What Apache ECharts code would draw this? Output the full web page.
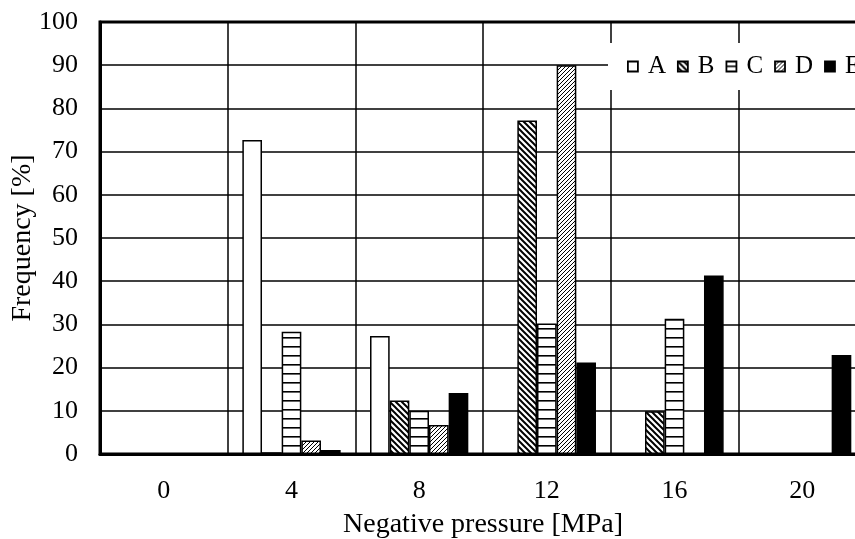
<!DOCTYPE html>
<html>
<head>
<meta charset="utf-8">
<script src="https://cdn.jsdelivr.net/npm/echarts@6/dist/echarts.min.js"></script>
<style>
html,body{margin:0;padding:0;background:#fff;}
#chart{width:855px;height:539px;}
</style>
</head>
<body>
<div id="chart"></div>
<script>
// Data
var categories = ['0', '4', '8', '12', '16', '20'];
var seriesNames = ['A', 'B', 'C', 'D', 'E'];
var valuesA = [0, 72.7, 27.3, 0, 0, 0];
var valuesB = [0, 0.4, 12.4, 77.2, 9.9, 0];
var valuesC = [0, 28.3, 10.0, 30.2, 31.3, 0];
var valuesD = [0, 3.1, 6.7, 90.0, 0, 0];
var valuesE = [0, 0.9, 14.1, 21.2, 41.3, 22.9];
var yTicks = [0, 10, 20, 30, 40, 50, 60, 70, 80, 90, 100];

function makeTile(w, h, draw) {
  var c = document.createElement('canvas');
  c.width = w; c.height = h;
  var ctx = c.getContext('2d');
  ctx.fillStyle = '#fff';
  ctx.fillRect(0, 0, w, h);
  ctx.strokeStyle = '#000';
  draw(ctx, w, h);
  return c;
}
var tileB = makeTile(6, 6, function (ctx, s) {
  ctx.lineWidth = 2;
  ctx.beginPath();
  ctx.moveTo(0, 0); ctx.lineTo(s, s);
  ctx.moveTo(-2, s - 2); ctx.lineTo(2, s + 2);
  ctx.moveTo(s - 2, -2); ctx.lineTo(s + 2, 2);
  ctx.stroke();
});
var tileC = makeTile(4, 9, function (ctx, w, h) {
  ctx.fillStyle = '#000';
  ctx.fillRect(0, 4, w, 1.6);
});
var tileD = makeTile(4, 4, function (ctx, s) {
  ctx.lineWidth = 1;
  ctx.beginPath();
  ctx.moveTo(0, s); ctx.lineTo(s, 0);
  ctx.moveTo(-1, 1); ctx.lineTo(1, -1);
  ctx.moveTo(s - 1, s + 1); ctx.lineTo(s + 1, s - 1);
  ctx.stroke();
});

var fills = [
  '#ffffff',
  { image: tileB, repeat: 'repeat' },
  { image: tileC, repeat: 'repeat' },
  { image: tileD, repeat: 'repeat' },
  '#000000'
];
var allValues = [valuesA, valuesB, valuesC, valuesD, valuesE];
var fontFam = "'Liberation Serif', 'Times New Roman', serif";

var series = seriesNames.map(function (n, i) {
  return {
    name: n,
    type: 'bar',
    data: allValues[i],
    barGap: '0%',
    barCategoryGap: '23%',
    itemStyle: { color: fills[i], borderColor: '#000', borderWidth: 1.5 },
    emphasis: { disabled: true },
    animation: false
  };
});

var chart = echarts.init(document.getElementById('chart'), null, { renderer: 'canvas' });
chart.setOption({
  animation: false,
  backgroundColor: '#fff',
  textStyle: { fontFamily: fontFam, color: '#000' },
  grid: {
    left: 100, top: 22, width: 766, height: 432,
    containLabel: false,
    outerBoundsMode: 'none',
    show: true, borderColor: '#000', borderWidth: 3, backgroundColor: 'transparent'
  },
  legend: {
    data: seriesNames,
    left: 608, top: 43,
    width: 320,
    orient: 'horizontal',
    padding: [11, 30, 11, 19],
    backgroundColor: '#fff',
    itemWidth: 10, itemHeight: 10, itemGap: 11,
    icon: 'rect',
    itemStyle: { borderColor: '#000', borderWidth: 1.8 },
    textStyle: { fontFamily: fontFam, fontSize: 25, color: '#000', padding: [0, 0, 0, 5] },
    selectedMode: false
  },
  xAxis: {
    type: 'category',
    data: categories,
    name: 'Negative pressure [MPa]',
    nameLocation: 'middle',
    nameGap: 57,
    nameTextStyle: { fontFamily: fontFam, fontSize: 28, color: '#000' },
    axisLine: { show: true, lineStyle: { color: '#000', width: 3 } },
    axisTick: { show: false },
    axisLabel: { fontFamily: fontFam, fontSize: 26, color: '#000', margin: 24 },
    splitLine: { show: true, interval: 0, lineStyle: { color: '#000', width: 1.5 } }
  },
  yAxis: {
    type: 'value',
    min: yTicks[0], max: yTicks[yTicks.length - 1], interval: 10,
    name: 'Frequency [%]',
    nameLocation: 'middle',
    nameGap: 63,
    nameMoveOverlap: false,
    nameRotate: 90,
    nameTextStyle: { fontFamily: fontFam, fontSize: 28, color: '#000' },
    axisLine: { show: true, lineStyle: { color: '#000', width: 3 } },
    axisTick: { show: false },
    axisLabel: { fontFamily: fontFam, fontSize: 26, color: '#000', margin: 22 },
    splitLine: { show: true, lineStyle: { color: '#000', width: 1.5 } }
  },
  series: series
});
</script>
</body>
</html>
